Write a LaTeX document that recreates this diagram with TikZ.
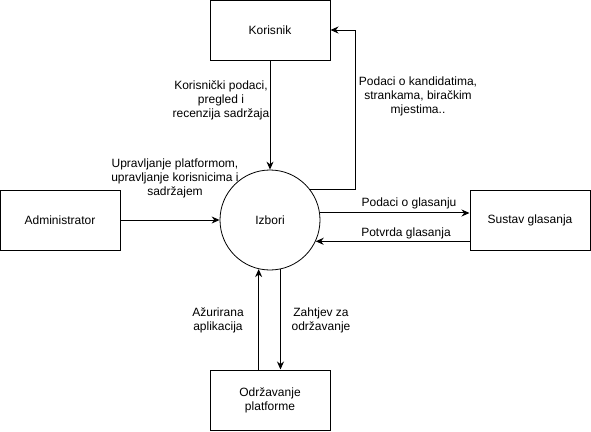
\documentclass[tikz,border=0pt]{standalone}
\usepackage{fontspec}
\setmainfont{Liberation Sans}
\usetikzlibrary{arrows.meta}
\tikzset{
    entity/.style={draw,line width=1pt,minimum width=120pt,minimum height=60pt,
        inner sep=0pt,font=\fontsize{12}{14}\selectfont},
    process/.style={draw,line width=0.8pt,circle,minimum size=100pt,inner sep=0pt,
        font=\fontsize{12}{14}\selectfont},
    flow/.style={line width=1pt,-{Stealth[length=8pt,width=7pt]}},
    flowtext/.style={align=center,inner sep=0pt,font=\fontsize{12}{14}\selectfont},
}
\begin{document}
\begin{tikzpicture}[x=1pt,y=-1pt]
    \useasboundingbox (0,0) rectangle (591,431);
    \node[process] (izbori) at (270,220) {Izbori};
    \node[entity] (korisnik) at (270,30) {Korisnik};
    \node[entity] (admin) at (60,220) {Administrator};
    \node[entity] (sustav) at (530,220) {Sustav glasanja};
    \node[entity,align=center] (odrzavanje) at (270,400) {Održavanje\\platforme};
    \coordinate (povrat) at (355,30);
    % tokovi
    \draw[flow] (korisnik.south) -- (izbori.north);
    \draw[flow] (izbori.37) -- (izbori.37 -| povrat) -- (povrat) -- (korisnik.east);
    \draw[flow] (admin.east) -- (izbori.west);
    \draw[flow] (izbori.8) -- (izbori.8 -| sustav.west);
    \draw[flow] (sustav.west |- izbori.-25) -- (izbori.-25);
    \draw[flow] (izbori.-103 |- odrzavanje.north) -- (izbori.-103);
    \draw[flow] (izbori.-78) -- (izbori.-78 |- odrzavanje.north);
    % oznake
    \node[flowtext] (lkorisnik) at (221,100) {Korisnički podaci,\\pregled i\\recenzija sadržaja};
    \node[flowtext] (ladmin) at (175,178) {Upravljanje platformom,\\upravljanje korisnicima i\\sadržajem};
    \node[flowtext] (lkandidati) at (418,96) {Podaci o kandidatima,\\strankama, biračkim\\mjestima..};
    \node[flowtext] (lglasanje) at (409,203) {Podaci o glasanju};
    \node[flowtext] (lpotvrda) at (406,233) {Potvrda glasanja};
    \node[flowtext] (lazurirana) at (218,320) {Ažurirana\\aplikacija};
    \node[flowtext] (lzahtjev) at (321,320) {Zahtjev za\\održavanje};
\end{tikzpicture}
\end{document}
